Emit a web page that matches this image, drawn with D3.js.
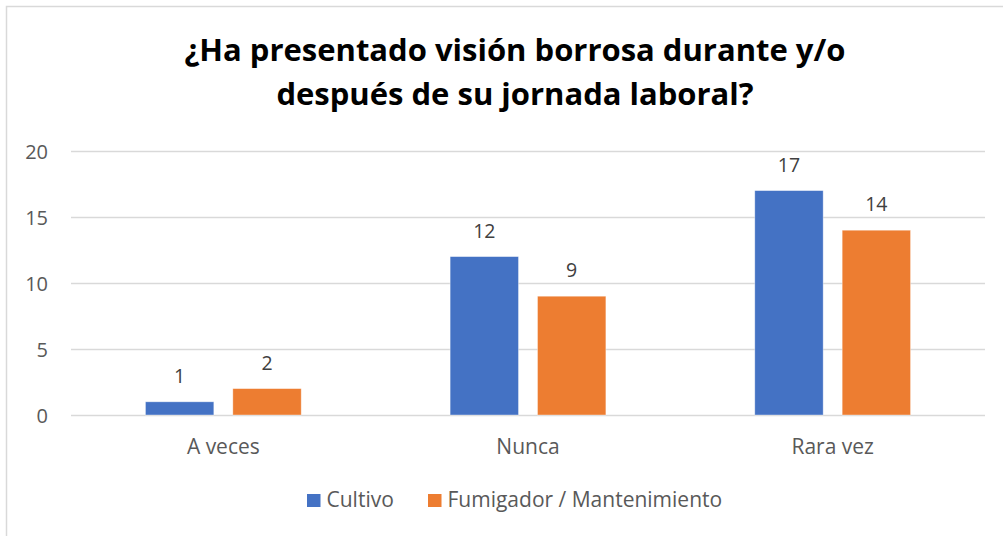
<!DOCTYPE html>
<html lang="es">
<head>
<meta charset="utf-8">
<title>Visión borrosa</title>
<script src="https://d3js.org/d3.v7.min.js"></script>
<style>
  body { margin: 0; background: #fff; }
  svg { display: block; font-family: "Open Sans", sans-serif; }
  .title { font-size: 31px; font-weight: bold; fill: #000; }
  .tick text { font-size: 20px; fill: #595959; }
  .val { font-size: 19.5px; fill: #404040; }
  .legend text { font-size: 21px; fill: #595959; }
</style>
</head>
<body>
<svg width="1003" height="536"></svg>
<script>
// data
const categories = ["A veces", "Nunca", "Rara vez"];
const series = ["Cultivo", "Fumigador / Mantenimiento"];
const cultivo = [1, 12, 17];
const fumigador = [2, 9, 14];
const yTicks = [0, 5, 10, 15, 20];
const colors = ["#4472C4", "#ED7D31"];
const titleLines = ["¿Ha presentado visión borrosa durante y/o", "después de su jornada laboral?"];

const values = [cultivo, fumigador];
const rows = categories.map((c, i) => ({cat: c, vals: series.map((s, j) => ({s, v: values[j][i]}))}));

const svg = d3.select("svg");

// chart border
svg.append("rect")
  .attr("x", 6.5).attr("y", 6.5)
  .attr("width", 1010).attr("height", 540)
  .attr("fill", "none").attr("stroke", "#d9d9d9").attr("stroke-width", 1.5);

// title
svg.append("text")
  .attr("class", "title")
  .attr("text-anchor", "middle")
  .selectAll("tspan")
  .data(titleLines)
  .join("tspan")
  .attr("x", 515)
  .attr("y", (d, i) => 61 + i * 44)
  .text(d => d);

const x0 = d3.scaleBand().domain(categories).range([71, 985]);
const x1 = d3.scaleBand().domain(series).range([0, x0.bandwidth()])
  .paddingInner(0.2174).paddingOuter(0.852);
const y = d3.scaleLinear().domain([0, 20]).range([415, 151]);

// gridlines + y labels
const yAxis = svg.append("g")
  .attr("transform", "translate(71,0)")
  .call(d3.axisLeft(y).tickValues(yTicks).tickSize(-914).tickPadding(23));
yAxis.select(".domain").remove();
yAxis.selectAll(".tick line").attr("stroke", "#d9d9d9").attr("stroke-width", 1.5);
yAxis.selectAll(".tick text").attr("dy", "0.36em");
yAxis.attr("font-family", null).attr("font-size", null);

// bars
const groups = svg.selectAll("g.grp")
  .data(rows)
  .join("g")
  .attr("class", "grp")
  .attr("transform", d => `translate(${x0(d.cat)},0)`);

groups.selectAll("rect")
  .data(d => d.vals)
  .join("rect")
  .attr("x", d => x1(d.s))
  .attr("y", d => y(d.v))
  .attr("width", x1.bandwidth())
  .attr("height", d => y(0) - y(d.v))
  .attr("fill", (d, i) => colors[i])
  .attr("stroke", "#fff")
  .attr("stroke-opacity", 0.5)
  .attr("stroke-width", 0.75);

groups.selectAll("text.val")
  .data(d => d.vals)
  .join("text")
  .attr("class", "val")
  .attr("text-anchor", "middle")
  .attr("x", d => x1(d.s) + x1.bandwidth() / 2)
  .attr("y", d => y(d.v) - 19)
  .text(d => d.v);

// category axis
const xAxis = svg.append("g")
  .attr("transform", "translate(0,415)")
  .call(d3.axisBottom(x0).tickSize(0));
xAxis.select(".domain").remove();
xAxis.attr("font-family", null).attr("font-size", null);
xAxis.selectAll(".tick text")
  .attr("y", 39).attr("dy", 0)
  .style("font-size", "21px").style("fill", "#595959");

// legend
const legendX = [307, 428];
const legend = svg.append("g").attr("class", "legend");
const li = legend.selectAll("g")
  .data(series)
  .join("g")
  .attr("transform", (d, i) => `translate(${legendX[i]},494)`);
li.append("rect")
  .attr("width", 13.5).attr("height", 13)
  .attr("fill", (d, i) => colors[i]);
li.append("text")
  .attr("x", 19.5).attr("y", 13)
  .text(d => d);
</script>
</body>
</html>
